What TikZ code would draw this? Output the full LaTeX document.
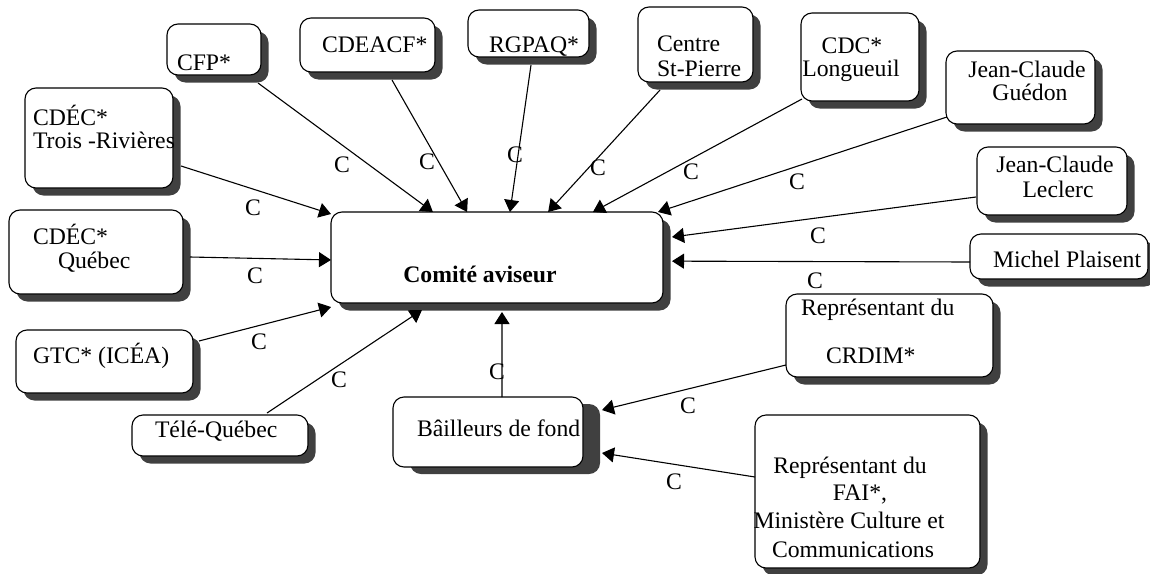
\documentclass[tikz,border=0pt]{standalone}
\usepackage{fontspec}
\setmainfont{Liberation Serif}
\usetikzlibrary{shadows,arrows.meta,calc}
\definecolor{shd}{HTML}{404040}
\tikzset{
  boxbase/.style={draw=black, line width=0.55pt, rounded corners=5.5pt, fill=white,
    inner sep=0pt, outer sep=0pt},
  box/.style={boxbase, drop shadow={shadow xshift=3.75pt, shadow yshift=-3.75pt, fill=shd, opacity=1}},
  wideshadowbox/.style={boxbase, drop shadow={shadow xshift=8.5pt, shadow yshift=-3.5pt, fill=shd, opacity=1}},
  txt/.style={inner sep=0pt, outer sep=0pt, font=\fontsize{11.85}{13}\selectfont},
  tl/.style={txt, anchor=base west},
  tc/.style={txt, anchor=base},
  lab/.style={txt},
  con/.style={line width=0.55pt, -{Triangle[length=6pt,width=7.5pt]}},
}
\begin{document}
\begin{tikzpicture}[x=0.5pt,y=-0.5pt]
\useasboundingbox (0,0) rectangle (1150,573);

% boxes
\node[box, minimum width=166pt, minimum height=45.5pt] (comite) at (497,257.5) {};
\node[box, minimum width=74pt, minimum height=50pt] (tr) at (99,138) {};
\node[box, minimum width=47pt, minimum height=25.5pt] (cfp) at (214,49.5) {};
\node[box, minimum width=67.5pt, minimum height=27pt] (cdeacf) at (367.5,45) {};
\node[box, minimum width=60.5pt, minimum height=23.5pt] (rgpaq) at (528.5,33.5) {};
\node[box, minimum width=57.5pt, minimum height=37.5pt] (centre) at (695.5,44.5) {};
\node[box, minimum width=59pt, minimum height=44pt] (cdc) at (860,57) {};
\node[box, minimum width=74.5pt, minimum height=36.5pt] (guedon) at (1020.5,87.5) {};
\node[box, minimum width=75pt, minimum height=34pt] (leclerc) at (1052,181) {};
\node[box, minimum width=89pt, minimum height=22.5pt] (michel) at (1059,256.5) {};
\node[box, minimum width=87pt, minimum height=42pt] (quebec) at (96,252) {};
\node[box, minimum width=88.5pt, minimum height=31.5pt] (gtc) at (104.5,361.5) {};
\node[box, minimum width=88pt, minimum height=20.5pt] (tele) at (220,435.5) {};
\node[wideshadowbox, minimum width=95pt, minimum height=35pt] (bail) at (488,432) {};
\node[box, minimum width=103.5pt, minimum height=41.5pt] (crdim) at (889.5,335.5) {};
\node[box, minimum width=112.5pt, minimum height=76.5pt] (fai) at (867.5,491.5) {};

% texts
\node[tc, font=\fontsize{11.85}{13}\selectfont\bfseries] (comiteT) at (480,282) {Comité aviseur};
\node[tl] (trT1) at (33,125) {CDÉC*};
\node[tl] (trT2) at (33,148) {Trois -Rivières};
\node[tl] (cfpT) at (177,70) {CFP*};
\node[tl] (cdeacfT) at (322,52) {CDEACF*};
\node[tl] (rgpaqT) at (489,52) {RGPAQ*};
\node[tl] (centreT1) at (657,51) {Centre};
\node[tl] (centreT2) at (657,76) {St-Pierre};
\node[tc] (cdcT1) at (852,53) {CDC*};
\node[tc] (cdcT2) at (851,76) {Longueuil};
\node[tc] (guedonT1) at (1027,77) {Jean-Claude};
\node[tc] (guedonT2) at (1030,100) {Guédon};
\node[tc] (leclercT1) at (1055,172) {Jean-Claude};
\node[tc] (leclercT2) at (1058,197) {Leclerc};
\node[tl] (michelT) at (993,267) {Michel Plaisent};
\node[tl] (quebecT1) at (33,244) {CDÉC*};
\node[tl] (quebecT2) at (58,268) {Québec};
\node[tl] (gtcT) at (33,363) {GTC* (ICÉA)};
\node[tl] (teleT) at (155,437) {Télé-Québec};
\node[tl] (bailT) at (417,436) {Bâilleurs de fond};
\node[tl] (crdimT1) at (801,315) {Représentant du};
\node[tl] (crdimT2) at (826,363) {CRDIM*};
\node[tc] (faiT1) at (850,473) {Représentant du};
\node[tc] (faiT2) at (860,500) {FAI*,};
\node[tc] (faiT3) at (849,528) {Ministère Culture et};
\node[tc] (faiT4) at (853,557) {Communications};

% connectors
\draw[con] ($(tr.north east)+(8,78)$) -- ($(comite.north west)+(0,2)$);
\draw[con] ($(cfp.south east)+(-3,8)$) -- ($(comite.north west)!0.307!(comite.north east)$);
\draw[con] ($(cdeacf.south east)+(-43,8)$) -- ($(comite.north west)!0.41!(comite.north east)$);
\draw[con] ($(rgpaq.south)+(2.5,8)$) -- ($(comite.north west)!0.539!(comite.north east)$);
\draw[con] ($(centre.south west)+(22,8)$) -- ($(comite.north west)!0.654!(comite.north east)$);
\draw[con] ($(cdc.south west)+(1,-2)$) -- ($(comite.north west)!0.789!(comite.north east)$);
\draw[con] ($(guedon.south west)+(1,-7)$) -- ($(comite.north west)!0.985!(comite.north east)$);
\draw[con] ($(leclerc.south west)+(-1,-18)$) -- ($(comite.north east)!0.275!(comite.south east)+(9,0)$);
\draw[con] ($(michel.west)+(0,5.5)$) -- ($(comite.north east)!0.54!(comite.south east)+(9,0)$);
\draw[con] ($(quebec.east)+(7,5)$) -- ($(comite.north west)!0.527!(comite.south west)$);
\draw[con] ($(gtc.north east)+(6,11)$) -- ($(comite.south west)+(0,4)$);
\draw[con] ($(tele.north east)+(-41,-2)$) -- ($(comite.south west)!0.274!(comite.south east)+(0,7)$);
\draw[con] ($(bail.north)+(14,0)$) -- ($(comite.south west)!0.515!(comite.south east)+(0,9)$);
\draw[con] ($(crdim.south west)+(0,-12)$) -- ($(bail.north east)!0.186!(bail.south east)+(19,0)$);
\draw[con] ($(fai.west)+(0,-14.5)$) -- ($(bail.north east)!0.8!(bail.south east)+(19,0)$);

% labels
\node[lab] (c1) at (253,208) {C};
\node[lab] (c2) at (342,165) {C};
\node[lab] (c3) at (427,162) {C};
\node[lab] (c4) at (515,155) {C};
\node[lab] (c5) at (598,168) {C};
\node[lab] (c6) at (691,172) {C};
\node[lab] (c7) at (797,182) {C};
\node[lab] (c8) at (818,236) {C};
\node[lab] (c9) at (815,281) {C};
\node[lab] (c10) at (255,276) {C};
\node[lab] (c11) at (259,342) {C};
\node[lab] (c12) at (339,380) {C};
\node[lab] (c13) at (497,372) {C};
\node[lab] (c14) at (688,406) {C};
\node[lab] (c15) at (674,482) {C};
\end{tikzpicture}
\end{document}
